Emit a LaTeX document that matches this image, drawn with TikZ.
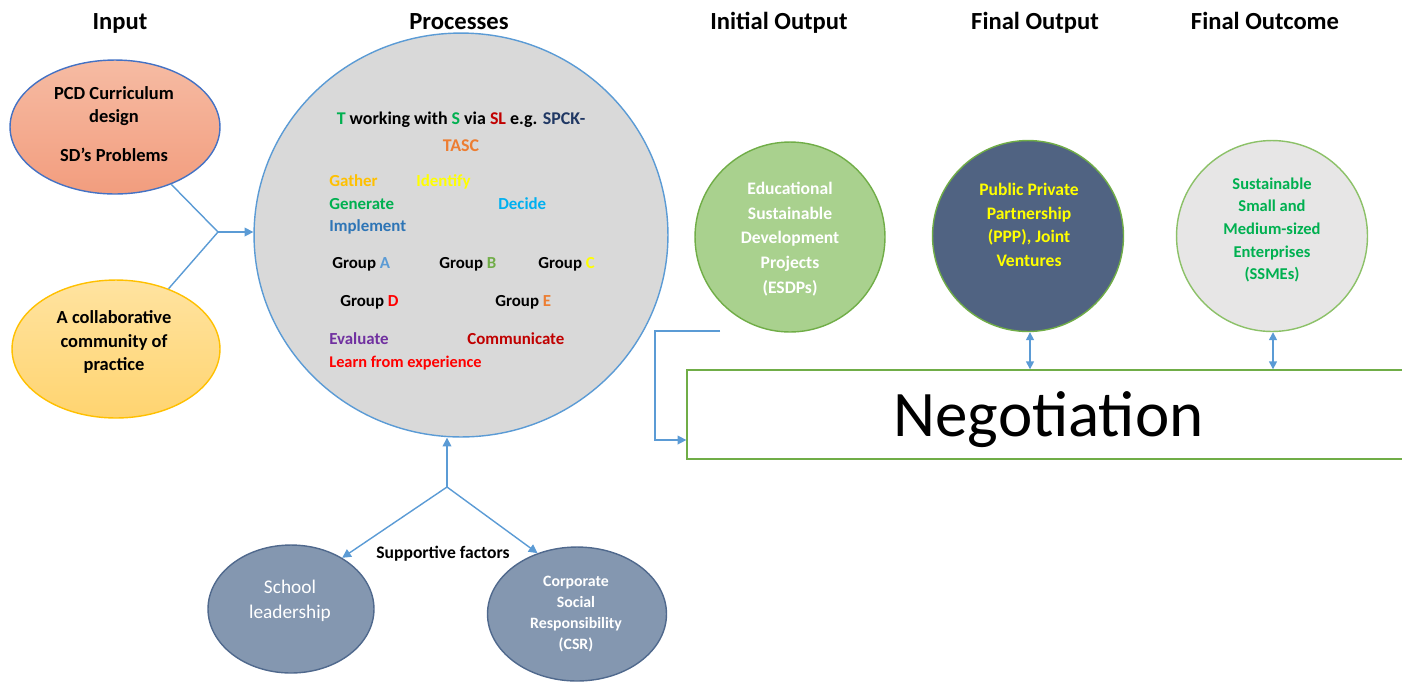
\documentclass[tikz,border=0pt]{standalone}
\usepackage{fontspec}
\setmainfont{Carlito}
\usetikzlibrary{arrows.meta,shapes.geometric}

\definecolor{lblue}{HTML}{5B9BD5}
\definecolor{pgray}{HTML}{D9D9D9}
\definecolor{pcdtop}{HTML}{F6BBA3}
\definecolor{pcdbot}{HTML}{F29D7E}
\definecolor{pcdline}{HTML}{4472C4}
\definecolor{coltop}{HTML}{FFE3A0}
\definecolor{colbot}{HTML}{FFD470}
\definecolor{colline}{HTML}{FFC000}
\definecolor{ogreen}{HTML}{70AD47}
\definecolor{esdpfill}{HTML}{A9D18E}
\definecolor{pppfill}{HTML}{506382}
\definecolor{ssmefill}{HTML}{E7E6E6}
\definecolor{ssmeline}{HTML}{8CC168}
\definecolor{ssmetext}{HTML}{00B050}
\definecolor{supfill}{HTML}{8497B0}
\definecolor{supline}{HTML}{50698D}
\definecolor{cgreen}{HTML}{00B050}
\definecolor{cdred}{HTML}{C00000}
\definecolor{cnavy}{HTML}{203864}
\definecolor{corange}{HTML}{ED7D31}
\definecolor{cgold}{HTML}{FFC000}
\definecolor{cyellow}{HTML}{FFFF00}
\definecolor{ccyan}{HTML}{00B0F0}
\definecolor{cblue}{HTML}{2E75B6}
\definecolor{clblue}{HTML}{5B9BD5}
\definecolor{clgreen}{HTML}{70AD47}
\definecolor{cred}{HTML}{FF0000}
\definecolor{cpurple}{HTML}{7030A0}

\begin{document}
\begin{tikzpicture}[x=0.02cm,y=-0.02cm,
  hdr/.style={font=\bfseries\fontsize{14}{16}\selectfont, inner sep=0, anchor=base},
  link/.style={draw=lblue, line width=0.8pt},
  tip/.style={-{Triangle[length=5pt,width=5pt]}},
  dtip/.style={{Triangle[length=4.5pt,width=4.5pt]}-{Triangle[length=4.5pt,width=4.5pt]}},
  ptxt/.style={font=\bfseries\fontsize{9.6}{11}\selectfont, inner sep=0, anchor=base west},
  bub/.style={line width=0.8pt, inner sep=0},
  ctext/.style={align=center, inner sep=0}]
\useasboundingbox (0,0) rectangle (1402,681);
\clip (0,0) rectangle (1402,681);

% column headings
\node[hdr] (hin)  at (120,29)  {Input};
\node[hdr] (hpr)  at (459,29)  {Processes};
\node[hdr] (hio)  at (779,29)  {Initial Output};
\node[hdr] (hfo)  at (1035,29) {Final Output};
\node[hdr] (hfc)  at (1265,29) {Final Outcome};

% inputs
\node[ellipse, bub, draw=pcdline, top color=pcdtop, bottom color=pcdbot,
      minimum width=4.2cm, minimum height=2.68cm] (pcd) at (115,127) {};
\node[ctext, font=\bfseries\fontsize{10.5}{13.6}\selectfont] (pcdt) at (114,124)
      {PCD Curriculum\\design\\[8.5pt]SD’s Problems};
\node[ellipse, bub, draw=colline, top color=coltop, bottom color=colbot,
      minimum width=4.16cm, minimum height=2.76cm] (col) at (116,349) {};
\node[ctext, font=\bfseries\fontsize{10.5}{13.4}\selectfont] (colt) at (114,342)
      {A collaborative\\community of\\practice};

% processes
\node[ellipse, bub, draw=lblue, fill=pgray,
      minimum width=8.28cm, minimum height=8.08cm] (proc) at (461,235) {};

\coordinate (ij) at (218,232);
\draw[link] (pcd) -- (ij);
\draw[link] (col) -- (ij);
\draw[link, tip] (ij) -- (proc.west |- ij);

\node[ptxt, anchor=base, font=\bfseries\fontsize{10.2}{12}\selectfont] (t1) at (461,124)
  {\textcolor{cgreen}{T} working with \textcolor{cgreen}{S} via \textcolor{cdred}{SL} e.g. \textcolor{cnavy}{SPCK-}};
\node[ptxt, anchor=base, font=\bfseries\fontsize{10.2}{12}\selectfont, text=corange] (t2) at (461,151) {TASC};
\node[ptxt, text=cgold]   (gather)   at (329,186) {Gather};
\node[ptxt, text=cyellow] (identify) at (416,186) {Identify};
\node[ptxt, text=cgreen]  (generate) at (329,209) {Generate};
\node[ptxt, text=ccyan]   (decide)   at (498,209) {Decide};
\node[ptxt, text=cblue]   (impl)     at (329,231) {Implement};
\node[ptxt] (ga) at (332,268) {Group \textcolor{clblue}{A}};
\node[ptxt] (gb) at (439,268) {Group \textcolor{clgreen}{B}};
\node[ptxt] (gc) at (538,268) {Group \textcolor{cyellow}{C}};
\node[ptxt] (gd) at (340,306) {Group \textcolor{cred}{D}};
\node[ptxt] (ge) at (495,306) {Group \textcolor{corange}{E}};
\node[ptxt, text=cpurple] (eval)  at (329,344) {Evaluate};
\node[ptxt, text=cdred]   (comm)  at (467,344) {Communicate};
\node[ptxt, text=cred, font=\bfseries\fontsize{9.3}{11}\selectfont] (learn) at (329,367) {Learn from experience};

% outputs and outcome
\node[circle, bub, draw=ogreen, fill=esdpfill, minimum size=3.8cm] (esdp) at (790,237) {};
\node[ctext, text=white, font=\bfseries\fontsize{10}{14}\selectfont] (esdpt) at (790,239)
  {Educational\\Sustainable\\Development\\Projects\\(ESDPs)};
\node[circle, bub, draw=ogreen, fill=pppfill, minimum size=3.82cm] (ppp) at (1028,236) {};
\node[ctext, text=cyellow, font=\bfseries\fontsize{10}{13.4}\selectfont] (pppt) at (1029,225)
  {Public Private\\Partnership\\(PPP), Joint\\Ventures};
\node[circle, bub, draw=ssmeline, fill=ssmefill, minimum size=3.82cm] (ssme) at (1272,236) {};
\node[ctext, text=ssmetext, font=\bfseries\fontsize{9.4}{12.9}\selectfont] (ssmet) at (1272,230)
  {Sustainable\\Small and\\Medium-sized\\Enterprises\\(SSMEs)};

% negotiation
\node[draw=ogreen, line width=0.8pt, fill=white, minimum width=14.46cm, minimum height=1.78cm,
      text depth=0pt, font=\fontsize{37}{40}\selectfont] (neg) at (1048.5,414.5) {Negotiation};

\draw[link, dtip] (ppp.south -| 1030,0) -- (neg.north -| 1030,0);
\draw[link, dtip] (ssme.south -| 1273,0) -- (neg.north -| 1273,0);

\coordinate (esdpout) at (720,331);
\draw[link, tip] (esdpout) -- (655,331) |- (neg.west |- 0,440);

% supportive factors
\node[ellipse, bub, draw=supline, fill=supfill, minimum width=3.32cm, minimum height=2.56cm] (school) at (291,609) {};
\node[ctext, text=white, font=\fontsize{11}{14}\selectfont] (schoolt) at (290,601) {School\\leadership};
\node[ellipse, bub, draw=supline, fill=supfill, minimum width=3.58cm, minimum height=2.68cm] (csr) at (577,614) {};
\node[ctext, text=white, font=\bfseries\fontsize{9}{12.1}\selectfont] (csrt) at (576,614)
  {Corporate\\Social\\Responsibility\\(CSR)};

\coordinate (sj) at (447,487);
\draw[link, tip] (sj) -- (proc.south -| sj);
\draw[link, tip] (sj) -- (school.45);
\draw[link, tip] (sj) -- (csr.123);
\node[font=\bfseries\fontsize{10}{12}\selectfont, inner sep=0] (sup) at (443,554) {Supportive factors};
\end{tikzpicture}
\end{document}
